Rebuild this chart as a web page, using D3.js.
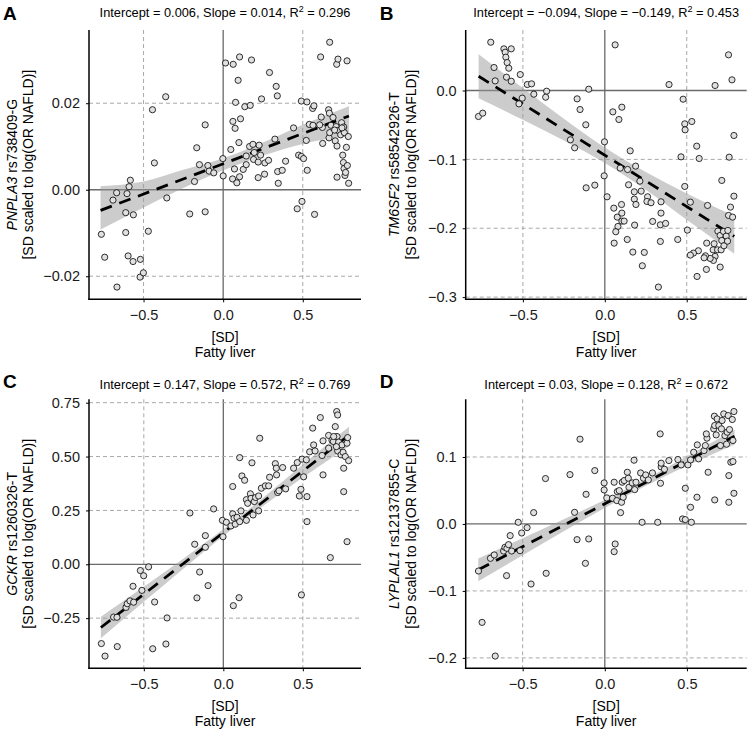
<!DOCTYPE html>
<html><head><meta charset="utf-8">
<script src="https://cdn.jsdelivr.net/npm/d3@7"></script>
<style>
body{margin:0;background:#fff}
svg{display:block}
text{font-family:"Liberation Sans",Arial,Helvetica,sans-serif}
</style>
</head><body>
<svg id="chart" width="750" height="733"></svg>
<script>
// ---------- data ----------
const xTicks = [-0.5, 0, 0.5];

const xA = [-0.765,-0.744,-0.692,-0.669,-0.667,-0.612,-0.612,-0.604,-0.597,-0.591,-0.583,-0.566,-0.564,-0.520,-0.522,-0.501,-0.470,-0.444,-0.432,-0.361,-0.354,-0.210,-0.180,-0.166,-0.149,-0.113,-0.113,-0.096,-0.088,-0.059,-0.002,0.000,0.015,0.063,0.103,0.178,0.094,0.078,0.061,0.109,0.075,0.136,0.170,0.048,0.099,0.071,0.059,0.086,0.103,0.126,0.145,0.145,0.166,0.187,0.195,0.191,0.226,0.220,0.220,0.235,0.241,0.260,0.262,0.285,0.291,0.325,0.333,0.340,0.342,0.346,0.371,0.392,0.442,0.465,0.474,0.491,0.495,0.491,0.505,0.522,0.526,0.528,0.541,0.562,0.570,0.574,0.564,0.612,0.616,0.623,0.625,0.669,0.662,0.667,0.665,0.669,0.677,0.690,0.704,0.709,0.715,0.713,0.721,0.719,0.715,0.738,0.744,0.751,0.755,0.757,0.759,0.761,0.765,0.769,0.778,0.780,0.786,0.788,0.774,0.746,0.606,0.700];
const yA = [-0.0103,-0.0156,-0.0024,-0.0007,-0.0225,-0.0099,-0.0053,-0.0009,-0.0153,0.0007,0.0022,-0.0166,-0.0058,-0.0161,-0.0202,-0.0192,-0.0096,0.0185,0.0062,0.0215,-0.0019,-0.0056,0.0019,0.0097,0.0058,0.0150,-0.0051,0.0056,0.0043,0.0039,0.0072,0.0032,0.0293,0.0290,0.0307,0.0300,0.0253,0.0202,0.0158,0.0164,0.0142,0.0192,0.0195,0.0093,0.0109,0.0048,0.0025,0.0016,0.0030,0.0047,0.0078,0.0058,0.0100,0.0105,0.0086,0.0070,0.0103,0.0028,0.0064,0.0080,0.0210,0.0036,0.0062,0.0068,0.0271,0.0117,0.0239,0.0217,0.0042,0.0015,0.0045,0.0066,0.0143,-0.0044,0.0080,0.0205,-0.0027,0.0077,0.0072,0.0114,0.0203,0.0045,0.0151,0.0188,0.0194,-0.0057,0.0149,0.0307,0.0168,0.0144,0.0107,0.0341,0.0185,0.0177,0.0120,0.0132,0.0149,0.0167,0.0113,0.0146,0.0101,0.0290,0.0302,0.0137,0.0029,0.0127,0.0155,0.0080,0.0063,0.0145,0.0049,0.0132,0.0033,0.0040,0.0298,0.0056,0.0123,0.0015,0.0098,0.0143,0.0150,0.0138];

const xB = [-0.771,-0.745,-0.696,-0.676,-0.669,-0.616,-0.608,-0.604,-0.596,-0.586,-0.600,-0.571,-0.571,-0.516,-0.524,-0.504,-0.473,-0.447,-0.433,-0.355,-0.361,-0.210,-0.184,-0.169,-0.151,-0.116,-0.114,-0.098,-0.061,-0.002,-0.004,0.014,0.063,0.049,0.086,0.104,0.055,0.076,0.080,0.067,0.057,0.102,0.104,0.094,0.104,0.118,0.139,0.137,0.145,0.155,0.171,0.180,0.180,0.182,0.188,0.190,0.214,0.222,0.229,0.241,0.261,0.257,0.282,0.292,0.327,0.339,0.339,0.343,0.343,0.371,0.392,0.445,0.465,0.478,0.488,0.490,0.488,0.504,0.522,0.531,0.561,0.576,0.627,0.673,0.714,0.755,0.759,0.755,0.767,0.776,0.780,0.788,0.788,0.622,0.661,0.667,0.688,0.690,0.704,0.710,0.714,0.724,0.727,0.741,0.749,0.751,0.673,0.663,0.643,0.614,0.606,0.571,0.541,0.522,0.704,0.620,0.563];
const yB = [-0.0377,-0.0329,0.0701,0.0334,0.0140,0.0605,0.0556,0.0484,0.0406,0.0324,0.0194,0.0605,0.0135,0.0232,-0.0194,-0.0111,0.0087,0.0097,-0.0053,-0.0010,-0.0097,-0.0716,-0.0832,-0.0121,-0.0276,-0.0498,-0.1413,0.0019,-0.1374,-0.0745,-0.1239,-0.1543,0.0663,-0.0310,-0.0421,-0.0242,-0.1708,-0.1838,-0.1974,-0.2051,-0.2216,-0.1655,-0.1780,-0.1127,-0.1896,-0.1896,-0.1147,-0.2163,-0.1369,-0.0876,-0.2346,-0.1471,-0.1577,-0.1954,-0.1098,-0.1655,-0.1316,-0.1461,-0.2545,-0.2351,-0.1543,-0.1611,-0.1630,-0.1901,-0.2854,-0.1950,-0.2192,-0.1616,-0.1780,-0.1930,0.0087,-0.2163,-0.0963,-0.0126,-0.0484,-0.0571,-0.1393,-0.2027,-0.1621,-0.0450,-0.0808,-0.0987,-0.1669,0.0073,-0.1306,0.0518,-0.0968,-0.1814,-0.1693,0.0155,-0.1838,-0.0653,-0.1534,-0.2216,-0.2313,-0.2225,-0.2313,-0.2042,-0.2104,-0.2313,-0.2177,-0.2046,-0.2254,-0.2114,-0.2187,-0.2032,-0.2409,-0.2467,-0.2438,-0.2400,-0.2429,-0.2327,-0.2361,-0.2390,-0.2564,-0.2598,-0.2700];

const xC = [-0.767,-0.744,-0.690,-0.669,-0.667,-0.612,-0.604,-0.587,-0.568,-0.564,-0.522,-0.512,-0.501,-0.470,-0.444,-0.432,-0.361,-0.354,-0.210,-0.180,-0.166,-0.149,-0.113,-0.113,-0.096,-0.061,-0.002,-0.006,0.019,0.048,0.059,0.063,0.099,0.059,0.067,0.075,0.086,0.103,0.111,0.103,0.117,0.134,0.145,0.145,0.153,0.170,0.174,0.180,0.187,0.195,0.203,0.222,0.222,0.229,0.239,0.264,0.285,0.291,0.327,0.333,0.335,0.342,0.350,0.373,0.392,0.442,0.465,0.478,0.488,0.491,0.495,0.505,0.522,0.526,0.526,0.543,0.562,0.568,0.577,0.610,0.621,0.627,0.627,0.662,0.662,0.673,0.683,0.692,0.704,0.713,0.719,0.715,0.719,0.725,0.740,0.746,0.753,0.757,0.757,0.767,0.778,0.782,0.788,0.778,0.694,0.711];
const yC = [-0.368,-0.426,-0.245,-0.246,-0.382,-0.200,-0.183,-0.170,-0.102,-0.176,-0.029,-0.121,-0.053,-0.012,-0.392,-0.175,-0.370,-0.249,0.238,0.093,-0.156,-0.036,0.133,0.079,-0.099,0.257,0.128,0.204,0.195,0.178,0.361,-0.192,-0.155,0.234,0.214,0.186,0.218,0.198,0.248,0.495,0.410,0.390,0.300,0.204,0.283,0.327,0.306,0.471,0.229,0.291,0.310,0.248,0.317,0.585,0.353,0.364,0.364,0.404,0.467,0.446,0.415,0.333,0.341,0.449,0.350,0.446,0.472,0.317,0.348,-0.142,0.488,0.406,0.485,0.314,0.198,0.522,0.632,0.554,0.526,0.681,0.505,0.415,0.573,0.598,0.539,0.031,0.576,0.570,0.639,0.709,0.693,0.593,0.526,0.567,0.508,0.554,0.520,0.446,0.337,0.500,0.562,0.588,0.481,0.105,0.593,0.546];

const xD = [-0.769,-0.747,-0.696,-0.673,-0.667,-0.616,-0.608,-0.598,-0.596,-0.586,-0.576,-0.567,-0.527,-0.516,-0.506,-0.473,-0.449,-0.433,-0.361,-0.357,-0.212,-0.184,-0.169,-0.151,-0.118,-0.114,-0.098,-0.061,-0.004,-0.004,0.012,0.063,0.057,0.057,0.047,0.073,0.076,0.088,0.102,0.096,0.106,0.112,0.118,0.137,0.143,0.147,0.167,0.178,0.182,0.190,0.218,0.227,0.235,0.249,0.265,0.290,0.322,0.337,0.343,0.343,0.339,0.363,0.390,0.445,0.465,0.473,0.490,0.490,0.506,0.522,0.527,0.522,0.541,0.561,0.563,0.571,0.604,0.612,0.622,0.629,0.618,0.663,0.667,0.669,0.669,0.678,0.684,0.694,0.704,0.710,0.714,0.724,0.731,0.741,0.745,0.751,0.755,0.755,0.759,0.767,0.776,0.780,0.786,0.780,0.786];
const yD = [-0.0703,-0.1470,-0.0513,-0.0463,-0.1973,-0.0404,-0.0349,-0.0772,-0.0364,-0.0309,-0.0174,-0.0404,0.0025,-0.0399,-0.0135,-0.0055,-0.0897,0.0169,0.0678,-0.0737,0.0737,0.0174,-0.0234,0.1266,-0.0588,0.0443,-0.0224,0.0797,0.0613,0.0508,0.0389,-0.0299,-0.0414,0.0623,0.0384,0.0349,0.0483,0.0498,0.0324,0.0169,0.0623,0.0399,0.0648,0.0772,0.0683,0.0548,0.0613,0.0952,0.0513,0.0623,0.0762,0.0025,0.0683,0.0732,0.0658,0.0762,0.0025,0.1345,0.0852,0.0907,0.0608,0.0817,0.0947,0.0962,0.0882,0.0075,0.0065,0.0533,0.0882,0.0249,0.0025,0.0957,0.1071,0.0399,0.1181,0.0972,0.1096,0.1171,0.1281,0.0772,0.1345,0.1420,0.1609,0.1470,0.0359,0.1330,0.1569,0.1470,0.1171,0.1420,0.1545,0.1644,0.1320,0.1191,0.1370,0.1619,0.0324,0.0722,0.1410,0.0922,0.1560,0.1246,0.1679,0.0932,0.0458];

// confidence band
const ribbonX = [-0.77, -0.5, -0.25, 0, 0.25, 0.5, 0.79];
const lowerA = [-0.0092,-0.0041,0.0004,0.0045,0.0079,0.0106,0.0124];
const upperA = [0.0008,0.0019,0.0046,0.0073,0.0109,0.0150,0.0193];
const lowerB = [-0.0113,-0.0426,-0.0726,-0.1052,-0.1442,-0.1876,-0.2370];
const upperB = [0.0527,0.0036,-0.0410,-0.0828,-0.1184,-0.1494,-0.1820];
const lowerC = [-0.3434,-0.1743,-0.0190,0.1317,0.2710,0.4028,0.5482];
const upperC = [-0.2434,-0.1037,0.0270,0.1623,0.3090,0.4632,0.6382];
const lowerD = [-0.0856,-0.0467,-0.0110,0.0240,0.0569,0.0869,0.1188];
const upperD = [-0.0516,-0.0213,0.0070,0.0360,0.0671,0.1011,0.1408];

const yTicksA = [-0.02, 0, 0.02];
const yTicksB = [-0.3, -0.2, -0.1, 0];
const yTicksC = [-0.25, 0, 0.25, 0.5, 0.75];
const yTicksD = [-0.2, -0.1, 0, 0.1];

const fitIntercept = [0.006, -0.094, 0.147, 0.03];
const fitSlope = [0.014, -0.149, 0.572, 0.128];
const fitR2 = [0.296, 0.453, 0.769, 0.672];
const fitLabels = [["0.006","0.014","0.296"],["\u22120.094","\u22120.149","0.453"],["0.147","0.572","0.769"],["0.03","0.128","0.672"]];
const letters = ["A","B","C","D"];
const genes = ["PNPLA3","TM6SF2","GCKR","LYPLAL1"];
const snps = [" rs738409-G"," rs58542926-T"," rs1260326-T"," rs12137855-C"];

// ---------- layout ----------
const panels = [
  {x:xA, y:yA, lo:lowerA, hi:upperA, ticks:yTicksA, fmt:".2f", left:89, right:361, top:30, bottom:299.3, t1:16.5, t2:33, sub:17, let:19.5},
  {x:xB, y:yB, lo:lowerB, hi:upperB, ticks:yTicksB, fmt:".1f", left:465.7, right:746.7, top:30, bottom:299.3, t1:399, t2:415.5, sub:17, let:19.5},
  {x:xC, y:yC, lo:lowerC, hi:upperC, ticks:yTicksC, fmt:".2f", left:89, right:361, top:399.3, bottom:668.3, t1:16.5, t2:33, sub:388.5, let:387.5},
  {x:xD, y:yD, lo:lowerD, hi:upperD, ticks:yTicksD, fmt:".1f", left:465.7, right:746.7, top:399.3, bottom:668.3, t1:399, t2:415.5, sub:388.5, let:387.5}
];

const svg = d3.select("#chart");

panels.forEach((p, k) => {
  const g = svg.append("g");
  const xe = d3.extent(p.x), ye = d3.extent(p.y);
  const xp = (xe[1]-xe[0])*0.05, yp = (ye[1]-ye[0])*0.05;
  const x = d3.scaleLinear().domain([xe[0]-xp, xe[1]+xp]).range([p.left, p.right]);
  const y = d3.scaleLinear().domain([ye[0]-yp, ye[1]+yp]).range([p.bottom, p.top]);

  // grid lines
  g.selectAll("line.vg").data(xTicks).join("line")
    .attr("x1", d=>x(d)).attr("x2", d=>x(d)).attr("y1", p.top).attr("y2", p.bottom)
    .attr("stroke", d=>d===0?"#6a6a6a":"#a8a8a8")
    .attr("stroke-width", d=>d===0?1.3:1)
    .attr("stroke-dasharray", d=>d===0?null:"4,3");
  g.selectAll("line.hg").data(p.ticks).join("line")
    .attr("y1", d=>y(d)).attr("y2", d=>y(d)).attr("x1", p.left).attr("x2", p.right)
    .attr("stroke", d=>d===0?"#6a6a6a":"#a8a8a8")
    .attr("stroke-width", d=>d===0?1.3:1)
    .attr("stroke-dasharray", d=>d===0?null:"4,3");

  // confidence band
  const area = d3.area()
    .x((d,i)=>x(ribbonX[i]))
    .y0((d,i)=>y(p.lo[i]))
    .y1((d,i)=>y(p.hi[i]))
    .curve(d3.curveMonotoneX);
  g.append("path").datum(p.lo).attr("d", area)
    .attr("fill", "#999").attr("fill-opacity", 0.5);

  // regression line
  const lx = [ribbonX[0], ribbonX[ribbonX.length-1]];
  g.append("path")
    .datum(lx)
    .attr("d", d3.line().x(d=>x(d)).y(d=>y(fitIntercept[k] + fitSlope[k]*d)))
    .attr("stroke", "#000").attr("stroke-width", 2.8)
    .attr("stroke-dasharray", "12,8").attr("fill", "none");

  // points
  g.selectAll("circle").data(p.x.map((v,i)=>[v,p.y[i]])).join("circle")
    .attr("cx", d=>x(d[0])).attr("cy", d=>y(d[1])).attr("r", 3.1)
    .attr("fill", "#e0e0e0").attr("stroke", "#000").attr("stroke-width", 0.8);

  // axes
  const ay = g.append("g").attr("transform", `translate(${p.left},0)`)
    .call(d3.axisLeft(y).tickValues(p.ticks).tickFormat(d3.format(p.fmt)).tickSize(3).tickSizeOuter(0).tickPadding(6));
  const ax = g.append("g").attr("transform", `translate(0,${p.bottom})`)
    .call(d3.axisBottom(x).tickValues(xTicks).tickFormat(d3.format(".1f")).tickSize(3).tickSizeOuter(0).tickPadding(7));
  [ax, ay].forEach(a => {
    a.select(".domain").attr("stroke", "#000").attr("stroke-width", 1.5);
    a.selectAll(".tick line").attr("stroke", "#000").attr("stroke-width", 1);
    a.selectAll(".tick text").attr("font-size", 14.5).attr("fill", "#1a1a1a")
      .attr("font-family", '"Liberation Sans",Arial,sans-serif');
  });
  ay.select(".domain").attr("d", `M0,${p.bottom+0.75}V${p.top}`);
  ax.select(".domain").attr("d", `M${p.left-0.75},0H${p.right}`);

  // x title
  const cx = (p.left + p.right)/2, cy = (p.top + p.bottom)/2;
  g.append("text").attr("x", cx).attr("y", p.bottom+43).attr("text-anchor","middle")
    .attr("font-size", 14).attr("fill","#000").text("[SD]");
  g.append("text").attr("x", cx).attr("y", p.bottom+58).attr("text-anchor","middle")
    .attr("font-size", 14).attr("fill","#000").text("Fatty liver");

  // y title (two lines)
  const yt1 = g.append("text").attr("transform", `translate(${p.t1},${cy}) rotate(-90)`)
    .attr("text-anchor","middle").attr("font-size", 14).attr("fill","#000");
  yt1.append("tspan").attr("font-style","italic").text(genes[k]);
  yt1.append("tspan").text(snps[k]);
  g.append("text").attr("transform", `translate(${p.t2},${cy}) rotate(-90)`)
    .attr("text-anchor","middle").attr("font-size", 14).attr("fill","#000")
    .text("[SD scaled to log(OR NAFLD)]");

  // subtitle
  const st = g.append("text").attr("x", cx).attr("y", p.sub).attr("text-anchor","middle")
    .attr("font-size", 12.8).attr("fill","#000");
  const f = fitLabels[k];
  st.append("tspan").text(`Intercept = ${f[0]}, Slope = ${f[1]}, R`);
  st.append("tspan").attr("dy", -5).attr("font-size", 9).text("2");
  st.append("tspan").attr("dy", 5).text(` = ${f[2]}`);

  // panel letter
  g.append("text").attr("x", p.left - 86).attr("y", p.let)
    .attr("font-size", 19).attr("font-weight", "bold").attr("fill","#000").text(letters[k]);
});
</script>
</body></html>
